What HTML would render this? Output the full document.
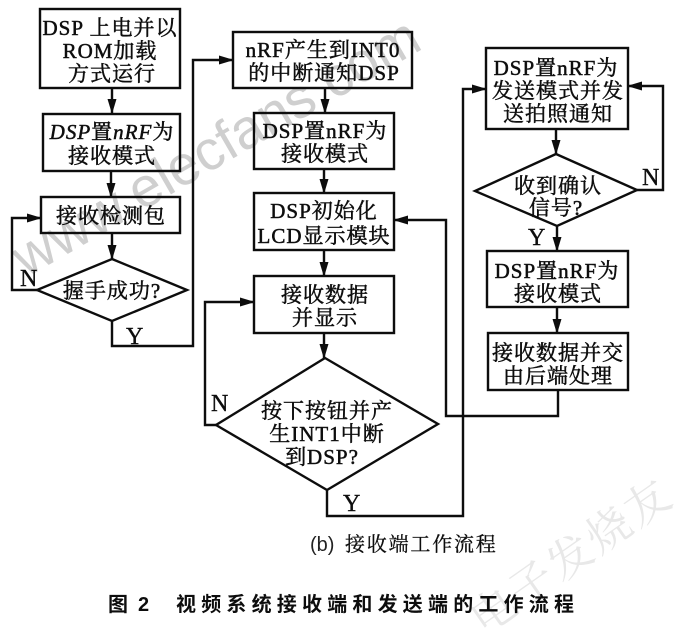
<!DOCTYPE html>
<html><head><meta charset="utf-8">
<style>
html,body{margin:0;padding:0;background:#fff;width:684px;height:631px;overflow:hidden}
svg{display:block}
.t{font-family:"Liberation Serif","Noto Serif CJK SC",serif;font-size:21px;fill:#111;text-anchor:middle;stroke:#111;stroke-width:.5;letter-spacing:1px}
.l{font-family:"Liberation Serif",serif;font-size:24px;fill:#111;stroke:#111;stroke-width:.4}
.wm{font-family:"Liberation Sans",sans-serif;font-size:56px;fill:#cfcfcf}
.wc{font-family:"Noto Serif CJK SC",serif;font-size:44px;fill:#e8e8e8}
</style></head><body>
<svg width="684" height="631" viewBox="0 0 684 631" xmlns="http://www.w3.org/2000/svg">
<defs>
<marker id="a" markerWidth="16" markerHeight="10" refX="14" refY="5" orient="auto" markerUnits="userSpaceOnUse"><path d="M0,0.5 L15,5 L0,9.5 Z" fill="#111"/></marker>
<filter id="b" x="0" y="0" width="100%" height="100%"><feGaussianBlur stdDeviation="0.35"/></filter>
</defs>
<g filter="url(#b)">
<text class="wm" transform="translate(26,278) rotate(-30)" textLength="460" lengthAdjust="spacingAndGlyphs">www.elecfans.com</text>
<text class="wc" transform="translate(484,636) rotate(-35)" textLength="232">电子发烧友</text>
<g fill="none" stroke="#111" stroke-width="2.4">
<rect x="40" y="9" width="140" height="79"/>
<rect x="43" y="114" width="137" height="57"/>
<rect x="41" y="197" width="139" height="36"/>
<path d="M112,259 L187,290 L112,321 L37,290 Z"/>
<rect x="233" y="32" width="179" height="56"/>
<rect x="254" y="113" width="140" height="56"/>
<rect x="254" y="193" width="140" height="57"/>
<rect x="254" y="276" width="140" height="57"/>
<path d="M325,358 L438,424 L327,490 L216,425 Z"/>
<rect x="486" y="48" width="142" height="81"/>
<path d="M556,154 L637,190 L557,226 L475,191 Z"/>
<rect x="487" y="251" width="141" height="56"/>
<rect x="488" y="333" width="140" height="57"/>
<path d="M112,88V113" marker-end="url(#a)"/>
<path d="M111,171V197" marker-end="url(#a)"/>
<path d="M112,233V259" marker-end="url(#a)"/>
<path d="M37,290H12V218H41" marker-end="url(#a)"/>
<path d="M112,321V346H193V60H233" marker-end="url(#a)"/>
<path d="M325,88V113" marker-end="url(#a)"/>
<path d="M324,169V193" marker-end="url(#a)"/>
<path d="M324,250V276" marker-end="url(#a)"/>
<path d="M324,333V358" marker-end="url(#a)"/>
<path d="M216,425H205V302H254" marker-end="url(#a)"/>
<path d="M327,490V516H463V89H486" marker-end="url(#a)"/>
<path d="M637,190H663V86H628" marker-end="url(#a)"/>
<path d="M556,129V154" marker-end="url(#a)"/>
<path d="M557,226V251" marker-end="url(#a)"/>
<path d="M557,307V333" marker-end="url(#a)"/>
<path d="M558,390V416H446V220H394" marker-end="url(#a)"/>
</g>
<text class="t" x="110" y="35">DSP 上电并以</text>
<text class="t" x="110" y="58">ROM加载</text>
<text class="t" x="112" y="81">方式运行</text>
<text class="t" x="112" y="139"><tspan font-style="italic">DSP</tspan>置<tspan font-style="italic">nRF</tspan>为</text>
<text class="t" x="112" y="163">接收模式</text>
<text class="t" x="111" y="223">接收检测包</text>
<text class="t" x="112" y="298">握手成功?</text>
<text class="t" x="323" y="57">nRF产生到INT0</text>
<text class="t" x="324" y="80">的中断通知DSP</text>
<text class="t" x="325" y="138">DSP置nRF为</text>
<text class="t" x="325" y="161">接收模式</text>
<text class="t" x="324" y="218">DSP初始化</text>
<text class="t" x="324" y="243">LCD显示模块</text>
<text class="t" x="325" y="302">接收数据</text>
<text class="t" x="325" y="325">并显示</text>
<text class="t" x="327" y="418">按下按钮并产</text>
<text class="t" x="327" y="441">生INT1中断</text>
<text class="t" x="322" y="464">到DSP?</text>
<text class="t" x="556" y="75">DSP置nRF为</text>
<text class="t" x="558" y="98">发送模式并发</text>
<text class="t" x="558" y="121">送拍照通知</text>
<text class="t" x="558" y="193">收到确认</text>
<text class="t" x="556" y="215">信号?</text>
<text class="t" x="557" y="278">DSP置nRF为</text>
<text class="t" x="558" y="301">接收模式</text>
<text class="t" x="558" y="360">接收数据并交</text>
<text class="t" x="558" y="383">由后端处理</text>
<text class="l" x="20" y="286">N</text>
<text class="l" x="126" y="344">Y</text>
<text class="l" x="211" y="411">N</text>
<text class="l" x="343" y="511">Y</text>
<text class="l" x="642" y="185">N</text>
<text class="l" x="528" y="245">Y</text>
<text x="310" y="551" font-family="Liberation Sans,Noto Sans CJK SC,sans-serif" font-size="20" fill="#222">(b)</text>
<text x="345" y="551" font-family="Liberation Serif,Noto Serif CJK SC,serif" font-size="20" fill="#111" letter-spacing="1.8" stroke="#111" stroke-width=".3">接收端工作流程</text>
<text x="108" y="611" font-family="Liberation Sans,Noto Sans CJK SC,sans-serif" font-size="20" font-weight="700" fill="#111">图</text>
<text x="138" y="611" font-family="Liberation Sans,sans-serif" font-size="20" font-weight="700" fill="#111">2</text>
<text x="176" y="611" font-family="Liberation Sans,Noto Sans CJK SC,sans-serif" font-size="20" font-weight="700" fill="#111" letter-spacing="5.2">视频系统接收端和发送端的工作流程</text>
</g>
</svg>
</body></html>
